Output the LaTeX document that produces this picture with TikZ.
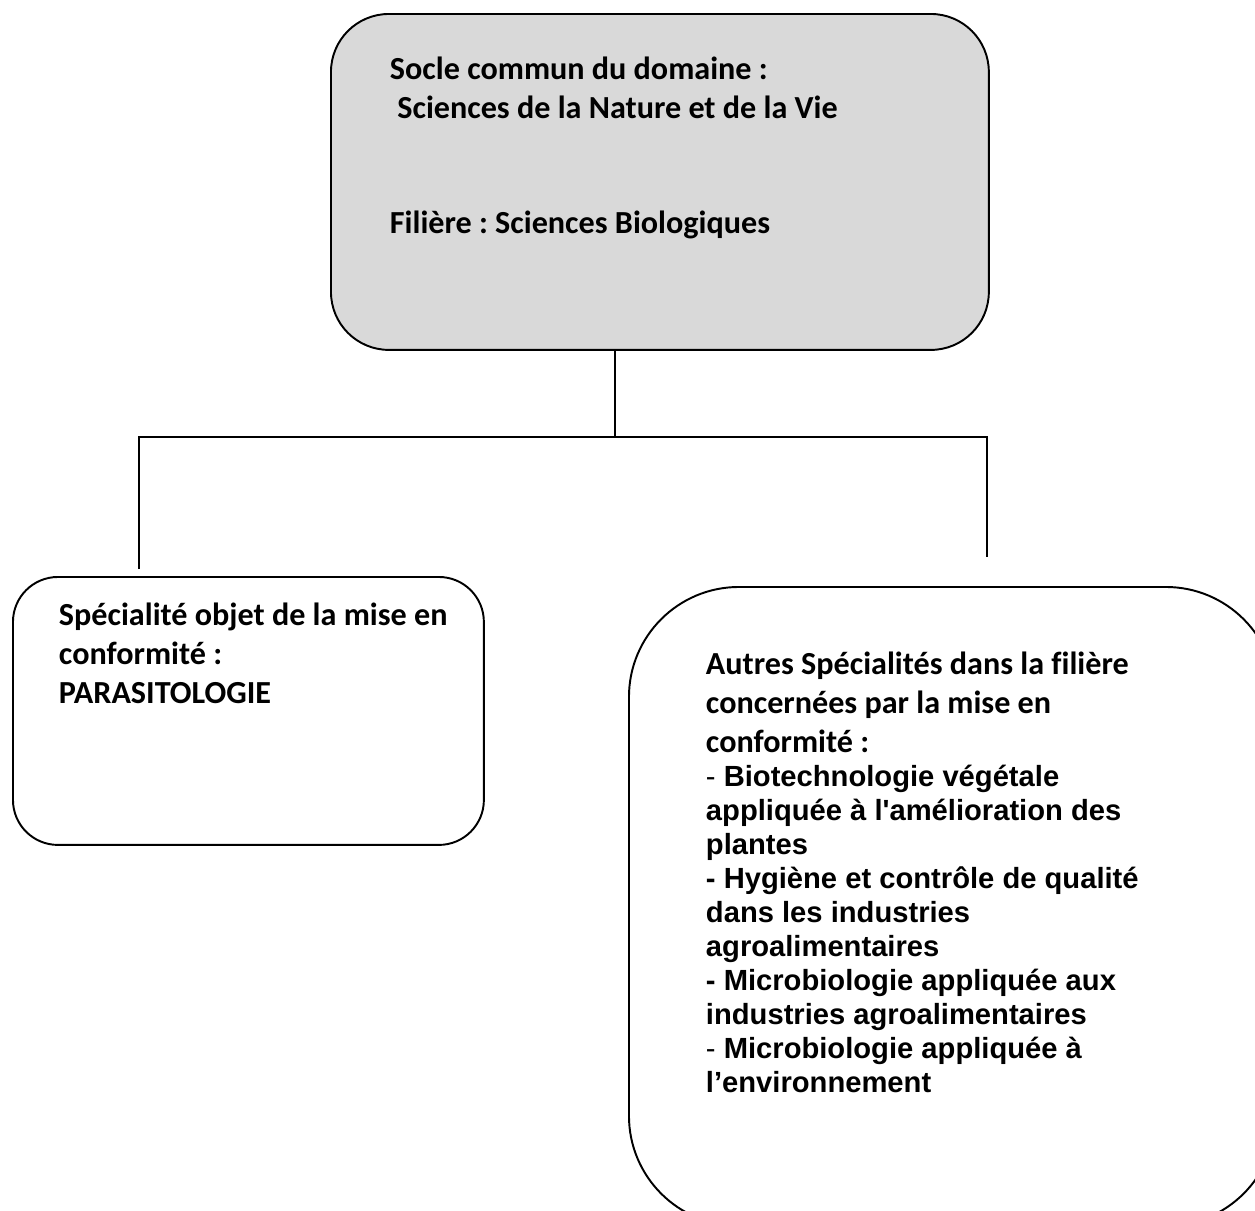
\documentclass[tikz,border=0pt]{standalone}
\usepackage{fontspec}
\setmainfont{Carlito}[Ligatures={TeX,NoCommon}]
\newfontfamily\arialfont{Liberation Sans}
\usetikzlibrary{positioning,calc}
\frenchspacing

\begin{document}
\begin{tikzpicture} [x=0.02cm, y=-0.02cm, line width=1.1pt,
          box/.style={draw, anchor=north west, inner sep=0},
          boxtext/.style={anchor=base west, inner sep=0, align=left,
            font=\fontsize{18.3}{22.2}\selectfont\bfseries},
          listtext/.style={boxtext,
            font=\arialfont\fontsize{16.6}{19.35}\selectfont\bfseries}]
  \useasboundingbox (0,0) rectangle (1255,1211);
  \clip (0,0) rectangle (1255,1211);
  \node[box, fill=black!15, minimum width=13.16cm, minimum height=6.72cm,
    rounded corners=1.16cm] (socle) at (330,13) {};
  \node[box, minimum width=9.42cm, minimum height=5.36cm,
    rounded corners=0.9cm] (specialite) at (12,576) {};
  \node[box, minimum width=12.94cm, minimum height=12.78cm,
    rounded corners=2.2cm] (autres) at (628,586) {};
  \node[boxtext] (socletext) at (389,233) {Socle commun du domaine :\\
    \hspace*{.23em}Sciences de la Nature et de la Vie\\[42.8pt]
    Filière : Sciences Biologiques};
  \node[boxtext] (specialitetext) at (58,703) {Spécialité objet de la mise en\\
    conformité :\\ PARASITOLOGIE};
  \node[listtext] (autrestext) at (705,1092) {%
    {\rmfamily\fontsize{18.3}{22.2}\selectfont Autres Spécialités dans la filière}\\[2.85pt]
    {\rmfamily\fontsize{18.3}{22.2}\selectfont concernées par la mise en}\\[2.85pt]
    {\rmfamily\fontsize{18.3}{22.2}\selectfont conformité :}\\
    {\mdseries -} Biotechnologie végétale\\
    appliquée à l\textquotesingle amélioration des\\
    plantes\\
    - Hygiène et contrôle de qualité\\
    dans les industries\\
    agroalimentaires\\
    - Microbiologie appliquée aux\\
    industries agroalimentaires\\
    {\mdseries -} Microbiologie appliquée à\\
    l’environnement};
  \coordinate (fork) at (615,437);
  \coordinate (leftend) at (139,569);
  \coordinate (rightend) at (987,557);
  \draw (socle.south -| fork) -- (fork);
  \draw (leftend) -- (leftend |- fork) -- (rightend |- fork) -- (rightend);
\end{tikzpicture}
\end{document}
